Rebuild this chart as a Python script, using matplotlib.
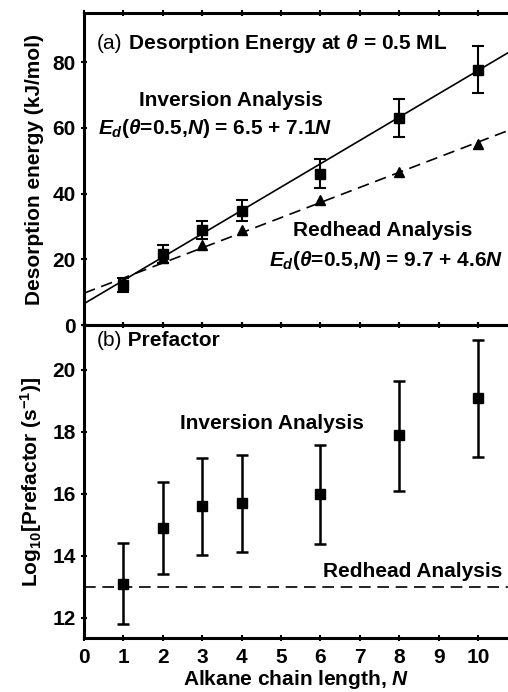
import matplotlib
matplotlib.use('Agg')
import matplotlib.pyplot as plt
import numpy as np

plt.rcParams['font.family'] = 'Liberation Sans'
plt.rcParams['font.weight'] = 'bold'
plt.rcParams['axes.labelweight'] = 'bold'
plt.rcParams['mathtext.fontset'] = 'custom'
plt.rcParams['mathtext.rm'] = 'Liberation Sans:bold'
plt.rcParams['mathtext.bf'] = 'Liberation Sans:bold'
plt.rcParams['mathtext.it'] = 'Liberation Sans:bold:italic'

# data
chain_n = [1, 2, 3, 4, 6, 8, 10]
ed_inversion = [12.2, 21.6, 28.9, 34.8, 46.1, 63.0, 77.8]
ed_inversion_err = [2.0, 2.8, 2.7, 3.2, 4.4, 5.9, 7.3]
ed_redhead = [12.5, 20.3, 24.3, 28.9, 38.0, 46.6, 55.2]
fit_inversion = (6.5, 7.1)
fit_redhead = (9.7, 4.6)

pref_inversion = [13.1, 14.9, 15.6, 15.7, 16.0, 17.9, 19.1]
pref_upper = [14.42, 16.37, 17.17, 17.25, 17.58, 19.64, 20.97]
pref_lower = [11.80, 13.41, 14.04, 14.14, 14.40, 16.08, 17.20]
pref_redhead = 13.0

xticks = list(range(0, 11))

fs = 15

fig = plt.figure(figsize=(5.08, 6.92), dpi=100)
ax1 = fig.add_axes([0.1654, 0.5303, 0.8346, 0.4509])
ax2 = fig.add_axes([0.1654, 0.0780, 0.8346, 0.4523])

xmax = 10.76
xx = np.array([0, xmax])

# (a) desorption energy
ax1.plot(xx, fit_inversion[0] + fit_inversion[1] * xx, color='black', lw=1.2)
ax1.plot(xx, fit_redhead[0] + fit_redhead[1] * xx, color='black', lw=1.2,
         dashes=(7, 4))
ax1.errorbar(chain_n, ed_inversion, yerr=ed_inversion_err, fmt='s', color='black',
             ms=7, elinewidth=1.5, capsize=4.5, capthick=1.5)
ax1.plot(chain_n, ed_redhead, '^', color='black', ms=7)
ax1.set_ylim(0, 95)
ax1.set_yticks([0, 20, 40, 60, 80])
ax1.set_ylabel('Desorption energy (kJ/mol)', fontsize=fs, labelpad=6)

t = ax1.text(0.33, 85.7, '(a)', fontsize=fs, fontweight='normal', va='center')
ax1.annotate(r' Desorption Energy at $\theta$ = 0.5 ML', xy=(1, 0.5), xycoords=t,
             va='center', fontsize=fs, fontweight='bold')
ax1.text(3.73, 68.4, 'Inversion Analysis', fontsize=fs, ha='center', va='center')
ax1.text(3.33, 59.9, r'$E_d$($\theta$=0.5,$N$) = 6.5 + 7.1$N$', fontsize=fs,
         ha='center', va='center')
ax1.text(7.59, 28.9, 'Redhead Analysis', fontsize=fs, ha='center', va='center')
ax1.text(7.67, 19.8, r'$E_d$($\theta$=0.5,$N$) = 9.7 + 4.6$N$', fontsize=fs,
         ha='center', va='center')

# (b) prefactor
yerr = [np.subtract(pref_inversion, pref_lower), np.subtract(pref_upper, pref_inversion)]
ax2.errorbar(chain_n, pref_inversion, yerr=yerr, fmt='s', color='black',
             ms=7, elinewidth=1.8, capsize=4.5, capthick=1.8)
ax2.axhline(pref_redhead, color='black', lw=1.2, dashes=(7, 4))
ax2.set_ylim(11.35, 21.45)
ax2.set_yticks([12, 14, 16, 18, 20])
ax2.set_ylabel(r'Log$_{10}$[Prefactor (s$^{-1}$)]', fontsize=fs, labelpad=6)
ax2.set_xlabel(r'Alkane chain length, $N$', fontsize=fs, labelpad=1)

t2 = ax2.text(0.33, 20.95, '(b)', fontsize=fs, fontweight='normal', va='center')
ax2.annotate(' Prefactor', xy=(1, 0.5), xycoords=t2, va='center',
             fontsize=fs, fontweight='bold')
ax2.text(4.77, 18.27, 'Inversion Analysis', fontsize=fs, ha='center', va='center')
ax2.text(8.35, 13.5, 'Redhead Analysis', fontsize=fs, ha='center', va='center')

for ax in (ax1, ax2):
    ax.set_xlim(0, xmax)
    ax.set_xticks(xticks)
    ax.tick_params(direction='inout', length=4, width=1.5, top=True,
                   labelsize=fs)
    ax.tick_params(axis='x', pad=5)
    ax.tick_params(axis='y', pad=4)
    for s in ('left', 'top', 'bottom'):
        ax.spines[s].set_linewidth(2.2)
    ax.spines['right'].set_visible(False)
    for lab in ax.get_xticklabels() + ax.get_yticklabels():
        lab.set_fontweight('bold')

ax1.tick_params(labelbottom=False)
fig.align_ylabels([ax1, ax2])

fig.savefig('out.png', dpi=100)
